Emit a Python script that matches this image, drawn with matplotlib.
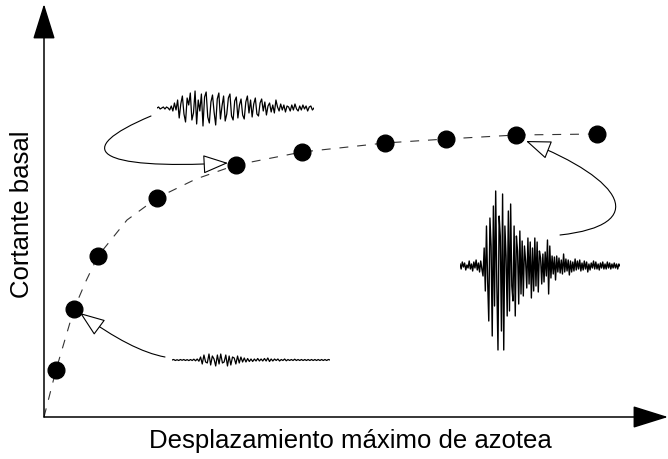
import matplotlib
matplotlib.use("Agg")
import matplotlib.pyplot as plt
import numpy as np
from matplotlib.patches import FancyArrowPatch
from matplotlib.path import Path

plt.rcParams["font.family"] = ["Liberation Sans", "DejaVu Sans"]

# IDA points: displacement vs base shear (arbitrary units)
disp = [1.2, 3.0, 5.4, 11.3, 19.2, 25.8, 34.1, 40.2, 47.2, 55.3]
shear = [4.7, 10.8, 16.1, 21.9, 25.2, 26.5, 27.4, 27.8, 28.2, 28.3]

# dashed trend curve
curve_x = [0.0, 1.2, 3.0, 4.2, 5.4, 8.3, 11.3, 15.2, 19.2, 25.8, 34.1, 40.2, 47.2, 55.3]
curve_y = [0.0, 4.7, 10.8, 13.6, 16.1, 19.7, 21.9, 23.8, 25.2, 26.5, 27.4, 27.8, 28.2, 28.3]

# accelerograms (relative amplitude)
wave_mid = [0, 1, -1, 0, 1, -1, 1, 0, -2, 2,
            -3, 5, -2, 8, -10, 4, 12, -6, -14, 10, 3, 15, -12, -5, 17, -16, 8, -3, 14, -18,
            11, 16, -9, -15, 6, 13, -4, -17, 9, 15, -11, 2, 12, -13, -6, 10, 14, -8, -12, 7,
            11, -10, 3, 9, -7, -11, 6, 12, -5, 8, -9, 4, 10, -6, -8, 5, 9, -3, 6, -7,
            2, 5, -4, 3, -5, 8, 1, -3, 4, -2, 3, -4, 2, 1, -3, 3, -2, 4, -1, -3,
            2, -2, 3, -1, 2, -3, 1, 2, -2, 0]
wave_big = [2, -3, 4, -1, 3, -4, 1, -2, 5, -3, 2, -5, 4, -2, 6, -4, 3, -6, 5, -3,
            -10, 18, -25, 40, -15, -55, 48, 20, -70, 60, -40, 75, -20, -84, 50,
            30, -65, 72, -84, 40, 10, -50, 55, -45, 62, -20, -35, 40, -50, 30,
            15, -38, 35, -28, 25, -30, 20, 5, -22, 28, -18, 24, -32, 18, -25,
            28, -20, 24, -26, 15, 8, -18, 12, -16, 14, -10, 26, -28, 20, -12,
            10, -8, 9, -14, 10, -6, 8, -7, 6, -8, 12, -6, 7, -5, 6,
            -9, 5, -6, 4, -5, 7, -4, 5, -3, 6, -5, 3, -4, 5, -3, 4, -6, 2, -4, 3,
            -2, 5, -3, 4, -3, 2, -4, 3, -2, 4, -3, 2, -3, 4, -2, 3, -3, 2, -2, 3,
            -2, 2, -3, 2, 0]
wave_small = [0, 0.5, -0.5, 0.3, -0.5, 0.5, -0.3, 0.5, -0.5, 0.4, -0.6, 0.5,
              -0.5, 0.8, -0.8, 1, -1.2,
              3, -4, 5, -2, -3, 6, -5, 4, 1, -6, 5, -4, 6, -3, -2, 5, -6, 4,
              -5, 3, 2, -4, 4, -3, 3, -2, 2,
              -2, 1.5, -1.5, 1, -1.5, 1, -1, 1.5, -1, 1, -1, 1.5, -1, 2, -1.5,
              1, -1, 1, -0.5, 1, -1, 0.5, -0.5, 1, -0.8, 0.5, -0.5, 0.5, -0.5,
              0.8, -0.5, 0.5, -0.5, 0.5, -0.5, 0.5, -0.5, 0.5, -0.5, 0.5, -0.5,
              0.5, -0.5, 0.5, -0.5, 0.5, -0.5, 0.5, -0.5, 0.5, 0]

W, H = 668, 459
fig = plt.figure(figsize=(W / 100, H / 100), dpi=100)


def px_box(x0, y0, x1, y1):
    # pixel box (top-left origin) -> figure fraction rect
    return [x0 / W, 1 - y1 / H, (x1 - x0) / W, (y1 - y0) / H]


ax = fig.add_axes(px_box(44, 4, 668, 417))
ax.set_xlim(0, 62.4)
ax.set_ylim(0, 41.3)
ax.axis("off")

# axes with arrow heads
axis_style = "-|>,head_length=3.2,head_width=1.0"
for tip in [(1, 0), (0, 1)]:
    ax.annotate("", xy=tip, xytext=(0, 0), xycoords="axes fraction",
                arrowprops=dict(arrowstyle=axis_style, color="black", lw=1.1,
                                mutation_scale=7, shrinkA=0, shrinkB=0))

ax.plot(curve_x, curve_y, color="#333333", lw=0.8, ls=(0, (8, 8)), zorder=2)
ax.plot(disp, shear, "o", color="black", ms=12, zorder=3)

# curved open arrows
head = "-|>,head_length=1.6,head_width=0.6"
arrow_paths = [
    [(10.7, 30.1), (2.6, 26.7), (5.1, 24.7), (18.4, 25.4)],
    [(12.1, 6.0), (8.75, 6.6), (3.6, 10.4)],
    [(51.6, 18.2), (60.6, 19.2), (58.1, 23.7), (48.2, 27.6)],
]
for verts in arrow_paths:
    codes = [Path.MOVETO] + [Path.CURVE4 if len(verts) == 4 else Path.CURVE3] * (len(verts) - 1)
    arr = FancyArrowPatch(path=Path(verts, codes), arrowstyle=head,
                          mutation_scale=10, lw=0.8, edgecolor="black",
                          facecolor="white", shrinkA=0, shrinkB=0, zorder=4)
    ax.add_patch(arr)

# accelerogram insets
insets = [
    (wave_mid, px_box(157, 78, 314, 138), 30, 0.9),
    (wave_big, px_box(460, 176, 620, 356), 90, 1.0),
    (wave_small, px_box(172, 350, 330, 370), 10, 0.9),
]
for wave, rect, lim, lw in insets:
    iax = fig.add_axes(rect)
    iax.plot(np.arange(len(wave)), wave, color="black", lw=lw)
    iax.set_xlim(0, len(wave) - 1)
    iax.set_ylim(-lim, lim)
    iax.axis("off")

fig.text(350 / W, 1 - 441 / H, "Desplazamiento máximo de azotea",
         ha="center", va="center", fontsize=18.5)
fig.text(22 / W, 1 - 214 / H, "Cortante basal", rotation=90,
         ha="center", va="center", fontsize=18.5)

fig.savefig("out.png", dpi=100)
